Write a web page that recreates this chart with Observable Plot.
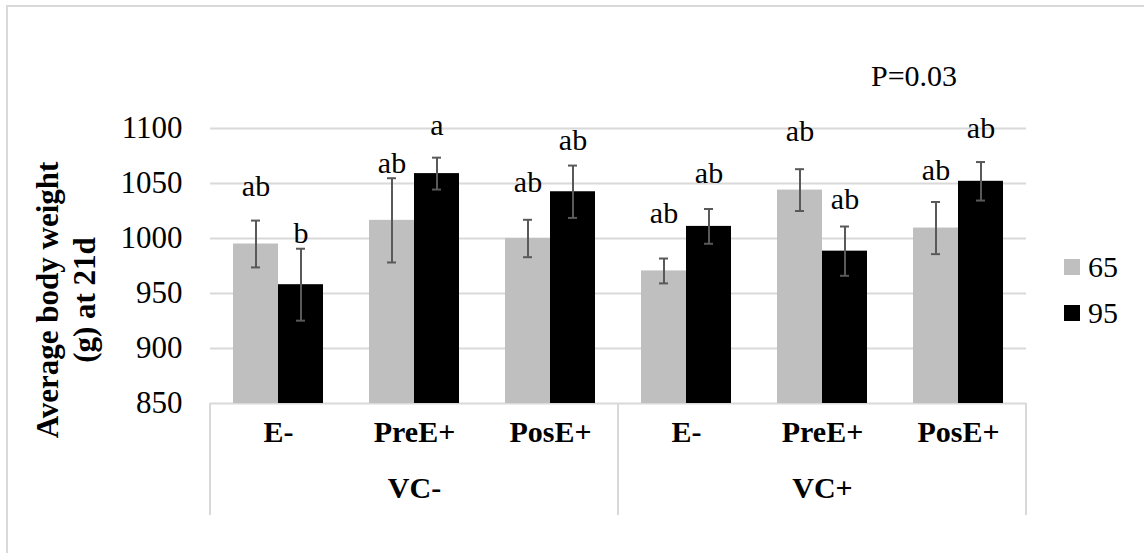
<!DOCTYPE html>
<html><head><meta charset="utf-8">
<script src="https://cdn.jsdelivr.net/npm/d3@7"></script>
<script src="https://cdn.jsdelivr.net/npm/@observablehq/plot@0.6"></script>
<style>
html,body{margin:0;padding:0;background:#fff;}
#wrap{position:relative;width:1144px;height:553px;overflow:hidden;font-family:"Liberation Serif","Times New Roman",serif;color:#000;}
#wrap svg{position:absolute;left:0;top:0;}
.bt{position:absolute;left:6px;top:5px;width:1138px;height:2px;background:#d9d9d9;}
.bl{position:absolute;left:6px;top:5px;width:2px;height:548px;background:#d9d9d9;}
.ytitle{position:absolute;left:66px;top:300px;width:420px;transform:translate(-50%,-50%) rotate(-90deg);text-align:center;font-weight:bold;font-size:31px;line-height:37px;white-space:nowrap;}
.ptext{position:absolute;left:871px;top:58px;font-size:30px;line-height:36px;white-space:nowrap;}
.leg{position:absolute;left:1064px;height:36px;display:flex;align-items:center;font-size:30px;line-height:36px;}
.leg i{display:inline-block;width:16px;height:16px;margin-right:8px;}
</style></head>
<body><div id="wrap"></div>
<script>
// ---- data ----
const subcats   = ["E-","PreE+","PosE+","E-","PreE+","PosE+"];
const vcGroups  = ["VC-","VC-","VC-","VC+","VC+","VC+"];
const seriesNames = ["65","95"];
const values65  = [995, 1016.5, 1000, 970.5, 1044, 1009.5];
const values95  = [958, 1059, 1042.5, 1011, 988.5, 1052];
const err65     = [21.3, 38.3, 17, 11.3, 19, 23.7];
const err95     = [32.7, 14.5, 23.8, 15.8, 22.4, 17.5];
const letters65 = ["ab","ab","ab","ab","ab","ab"];
const letters95 = ["b","a","ab","ab","ab","ab"];
const letterY65 = [1047, 1068, 1051, 1023, 1097, 1062];
const letterY95 = [1005, 1103, 1089, 1059, 1036, 1100];
const yTicks    = [850, 900, 950, 1000, 1050, 1100];
const pText     = "P=0.03";
const yTitle    = ["Average body weight", "(g) at 21d"];
const colors    = ["#bfbfbf", "#000000"];

// ---- build ----
const keys = subcats.map((s, i) => vcGroups[i] + "|" + s);
const rows = [];
keys.forEach((k, i) => {
  rows.push({key: k, series: seriesNames[0], value: values65[i], err: err65[i], letter: letters65[i], ly: letterY65[i]});
  rows.push({key: k, series: seriesNames[1], value: values95[i], err: err95[i], letter: letters95[i], ly: letterY95[i]});
});
const subRows = keys.map((k, i) => ({key: k, sub: subcats[i]}));
const vcUnique = [...new Set(vcGroups)];
const vcRows = vcUnique.map(v => {
  const ks = keys.filter((k, i) => vcGroups[i] === v);
  return {key: ks[Math.floor(ks.length / 2)], vc: v};
});
const serif = '"Liberation Serif","Times New Roman",serif';
const errColor = "#595959";

const plot = Plot.plot({
  width: 1144, height: 553,
  marginLeft: 208, marginRight: 116, marginTop: 128, marginBottom: 150,
  style: {fontFamily: serif, fontSize: "31px", color: "#000", background: "transparent", overflow: "visible"},
  fx: {domain: keys, padding: 0, axis: null, label: null},
  x: {domain: seriesNames, paddingInner: 0, paddingOuter: 0.5, axis: null, label: null},
  y: {domain: [yTicks[0], yTicks[yTicks.length - 1]], ticks: yTicks, tickSize: 0, tickPadding: 28, label: null, tickFormat: d => String(d)},
  color: {domain: seriesNames, range: colors},
  marks: [
    Plot.gridY(yTicks, {stroke: "#d9d9d9", strokeOpacity: 1, strokeWidth: 2}),
    Plot.barY(rows, {fx: "key", x: "series", y1: yTicks[0], y2: "value", fill: "series"}),
    Plot.ruleX(rows, {fx: "key", x: "series", y1: d => d.value - d.err, y2: d => d.value + d.err, stroke: errColor, strokeWidth: 2}),
    Plot.tickY(rows, {fx: "key", x: "series", y: d => d.value + d.err, stroke: errColor, strokeWidth: 2, insetLeft: 18, insetRight: 18}),
    Plot.tickY(rows, {fx: "key", x: "series", y: d => d.value - d.err, stroke: errColor, strokeWidth: 2, insetLeft: 18, insetRight: 18}),
    Plot.text(rows, {fx: "key", x: "series", y: "ly", text: "letter", fontSize: 30, fill: "#000"}),
    Plot.text(subRows, {fx: "key", text: "sub", frameAnchor: "bottom", dy: 38, fontSize: 30, fontWeight: "bold", fill: "#000"}),
    Plot.text(vcRows, {fx: "key", text: "vc", frameAnchor: "bottom", dy: 94, fontSize: 30, fontWeight: "bold", fill: "#000"})
  ]
});

const wrap = document.getElementById("wrap");
wrap.appendChild(plot);

// category box dividers from the library's scales
try {
  const fx = plot.scale("fx"), y = plot.scale("y");
  const y0 = y.apply(yTicks[0]);
  const edges = vcUnique.map(v => fx.apply(keys[vcGroups.indexOf(v)]));
  edges.push(fx.apply(keys[keys.length - 1]) + fx.bandwidth);
  d3.select(plot).append("g").selectAll("line").data(edges).join("line")
    .attr("x1", d => d).attr("x2", d => d).attr("y1", y0).attr("y2", y0 + 112)
    .attr("stroke", "#d9d9d9").attr("stroke-width", 2);
} catch (e) { console.error(e); }

// decorations
const add = (cls, html) => { const d = document.createElement("div"); d.className = cls; if (html != null) d.innerHTML = html; wrap.appendChild(d); return d; };
add("bt"); add("bl");
add("ytitle", yTitle.join("<br>"));
add("ptext", pText);
const cs = plot.scale("color");
seriesNames.forEach((s, i) => {
  const d = add("leg");
  d.style.top = (249 + i * 46) + "px";
  const sw = document.createElement("i");
  sw.style.background = cs.apply(s);
  d.appendChild(sw);
  d.appendChild(document.createTextNode(s));
});
</script>
</body></html>
